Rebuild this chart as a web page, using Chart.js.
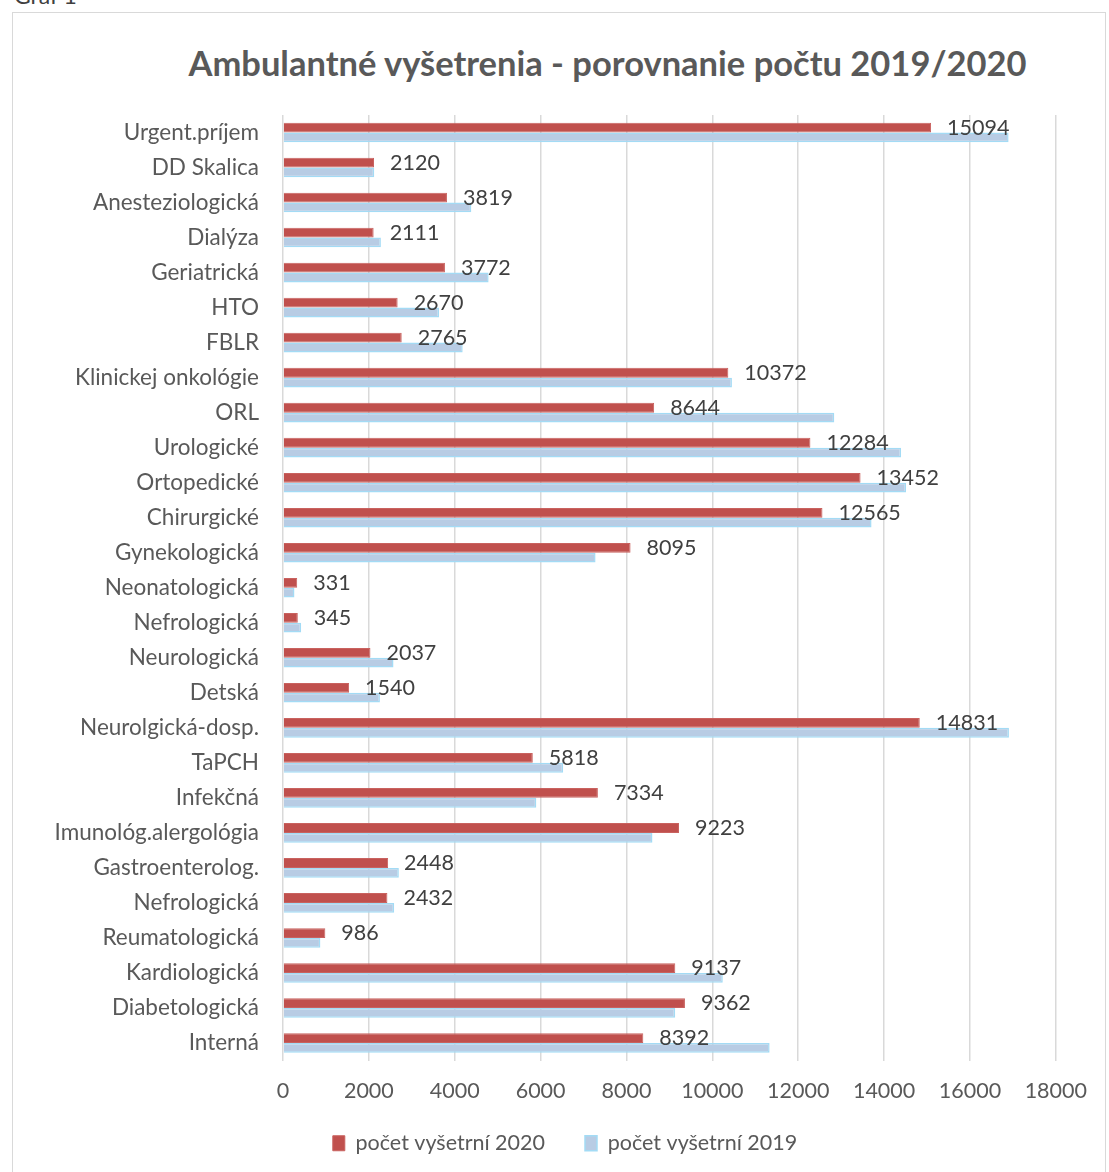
<!DOCTYPE html>
<html>
<head>
<meta charset="utf-8">
<script src="https://cdn.jsdelivr.net/npm/chart.js@4.4.1/dist/chart.umd.min.js"></script>
<style>
  body { margin: 0; background: #fff; font-family: Lato, sans-serif; }
  #wrap { position: relative; width: 1109px; height: 1172px; overflow: hidden; }
  #graf { position: absolute; left: 14px; top: -19px; font-size: 23px; color: #404040; }
  #box { position: absolute; left: 12px; top: 12px; width: 1092px; height: 1170px; border: 1px solid #D9D9D9; }
  #title { position: absolute; left: 0; width: 1215px; top: 42px; text-align: center; font-size: 34.5px; font-weight: bold; color: #595959; }
  #chartHolder { position: absolute; left: 12px; top: 12px; width: 1093px; height: 1160px; }
</style>
</head>
<body>
<div id="wrap">
  <div id="graf">Graf 1</div>
  <div id="box"></div>
  <div id="title">Ambulantné vyšetrenia - porovnanie počtu 2019/2020</div>
  <div id="chartHolder"><canvas id="ambChart"></canvas></div>
</div>
<script>
// oddelenia (zhora nadol)
const oddelenia = [
    'Urgent.príjem', 'DD Skalica', 'Anesteziologická', 'Dialýza', 'Geriatrická', 'HTO', 'FBLR',
    'Klinickej onkológie', 'ORL', 'Urologické', 'Ortopedické', 'Chirurgické', 'Gynekologická',
    'Neonatologická', 'Nefrologická', 'Neurologická', 'Detská', 'Neurolgická-dosp.', 'TaPCH',
    'Infekčná', 'Imunológ.alergológia', 'Gastroenterolog.', 'Nefrologická', 'Reumatologická',
    'Kardiologická', 'Diabetologická', 'Interná'
];
const vysetrenia2020 = [
    15094, 2120, 3819, 2111, 3772, 2670, 2765, 10372, 8644, 12284, 13452, 12565, 8095,
    331, 345, 2037, 1540, 14831, 5818, 7334, 9223, 2448, 2432, 986, 9137, 9362, 8392
];
// odhad z grafu (bez popisov)
const vysetrenia2019 = [
    16900, 2125, 4386, 2280, 4789, 3635, 4185, 10456, 12840, 14396, 14512, 13708, 7280,
    267, 423, 2574, 2257, 16908, 6526, 5900, 8605, 2698, 2590, 871, 10243, 9135, 11334
];
const xTicks = [0, 2000, 4000, 6000, 8000, 10000, 12000, 14000, 16000, 18000];

const FONT = 'Lato, sans-serif';

// popisky hodnot pre 2020
const valueLabels = {
    id: 'valueLabels',
    afterDatasetsDraw(chart) {
        const ctx = chart.ctx;
        const meta = chart.getDatasetMeta(0);
        ctx.save();
        ctx.font = '21.5px ' + FONT;
        ctx.fillStyle = '#404040';
        ctx.textAlign = 'left';
        ctx.textBaseline = 'middle';
        meta.data.forEach((bar, i) => {
            ctx.fillText(String(vysetrenia2020[i]), bar.x + 16, bar.y);
        });
        ctx.restore();
    }
};

// legenda trochu doprava a vyssie, ako v Exceli
const legendShift = {
    id: 'legendShift',
    afterLayout(chart) {
        const lg = chart.legend;
        if (lg) {
            lg.left += 30;
            lg.right += 30;
            lg.top -= 30;
            lg.bottom -= 30;
        }
    }
};

new Chart(document.getElementById('ambChart'), {
    type: 'bar',
    data: {
        labels: oddelenia,
        datasets: [{
            label: 'počet vyšetrní 2020',
            data: vysetrenia2020,
            backgroundColor: '#C0504D',
            borderColor: '#C9625F',
            borderWidth: 1,
            categoryPercentage: 0.56,
            barPercentage: 1.0
        }, {
            label: 'počet vyšetrní 2019',
            data: vysetrenia2019,
            backgroundColor: '#B8CCE4',
            borderColor: '#A3DBF5',
            borderWidth: 1.5,
            categoryPercentage: 0.56,
            barPercentage: 1.0
        }]
    },
    options: {
        indexAxis: 'y',
        responsive: true,
        maintainAspectRatio: false,
        animation: false,
        layout: { padding: { top: 103, right: 47, bottom: -22, left: 0 } },
        scales: {
            x: {
                min: 0,
                max: 18000,
                afterBuildTicks: scale => { scale.ticks = xTicks.map(v => ({ value: v })); },
                afterFit: scale => { scale.height = 62; },
                grid: { color: '#D9D9D9', lineWidth: 1.5, drawTicks: false },
                border: { display: false },
                ticks: {
                    color: '#595959', font: { family: FONT, size: 21.5 }, padding: 18, maxRotation: 0,
                    callback: v => String(v)
                }
            },
            y: {
                afterFit: scale => { scale.width = 271; },
                grid: { display: false, drawTicks: false },
                border: { display: false },
                ticks: { color: '#595959', font: { family: FONT, size: 22.5 }, padding: 24, autoSkip: false }
            }
        },
        plugins: {
            legend: {
                position: 'bottom',
                labels: {
                    color: '#595959',
                    font: { family: FONT, size: 21.5 },
                    boxWidth: 12,
                    boxHeight: 15,
                    padding: 40
                }
            },
            tooltip: { enabled: false }
        }
    },
    plugins: [valueLabels, legendShift]
});
</script>
</body>
</html>
